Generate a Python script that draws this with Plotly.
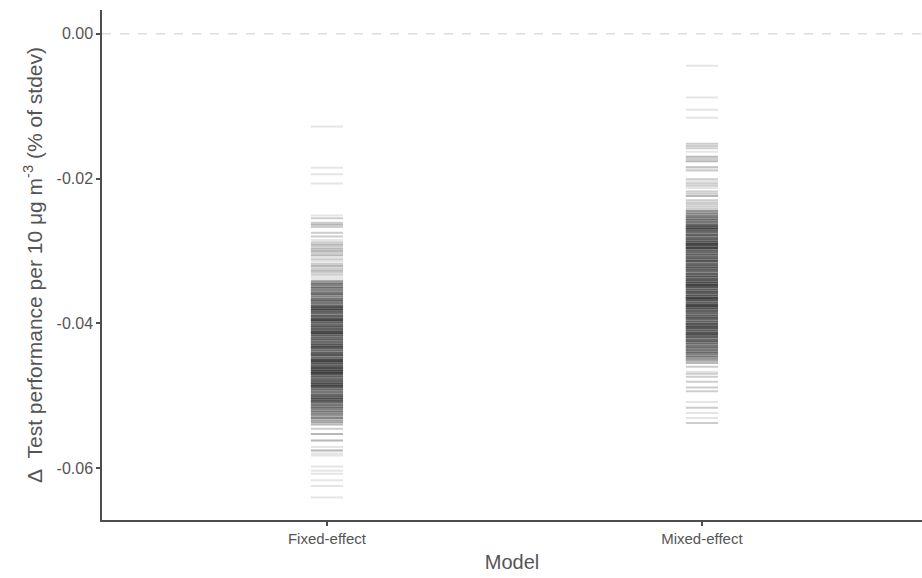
import numpy as np
import plotly.graph_objects as go

# Model categories
models = ["Fixed-effect", "Mixed-effect"]

# Estimated effects (per 10 ug/m3, share of stdev) and how many draws landed on each value
fixed_values = [
    -0.0128, -0.0185, -0.0194, -0.0207, -0.0251, -0.0255, -0.0261, -0.0264, -0.0267,
    -0.0275, -0.0280, -0.0285, -0.0288,
    -0.0291, -0.0294, -0.0297, -0.0300, -0.0303, -0.0306,
    -0.0309, -0.0312, -0.0315, -0.0318, -0.0321, -0.0324, -0.0327, -0.0330, -0.0333,
    -0.0336, -0.0339,
    -0.0342, -0.0345, -0.0348, -0.0351, -0.0354, -0.0357, -0.0360, -0.0363, -0.0366,
    -0.0369, -0.0372, -0.0375,
    -0.0378, -0.0381, -0.0384, -0.0387, -0.0390, -0.0393, -0.0396, -0.0399, -0.0402,
    -0.0405, -0.0408, -0.0411, -0.0414, -0.0417, -0.0420,
    -0.0423, -0.0426, -0.0429, -0.0432, -0.0435, -0.0438, -0.0441, -0.0444, -0.0447,
    -0.0450,
    -0.0453, -0.0456, -0.0459, -0.0462, -0.0465, -0.0468, -0.0471, -0.0474, -0.0477,
    -0.0480, -0.0483, -0.0486, -0.0489, -0.0492,
    -0.0495, -0.0498, -0.0501, -0.0504, -0.0507, -0.0510, -0.0513, -0.0516, -0.0519,
    -0.0522, -0.0525, -0.0528, -0.0531, -0.0534, -0.0537, -0.0540,
    -0.0546, -0.0553, -0.0562, -0.0571, -0.0576, -0.0580, -0.0583, -0.0598, -0.0604,
    -0.0608, -0.0617, -0.0625, -0.0641,
]
fixed_counts = [
    1, 1, 1, 1, 1, 2, 2, 3, 2,
    2, 2, 1, 2,
    3, 2, 3, 3, 2, 3,
    1, 2, 1, 2, 3, 2, 3, 2, 2,
    1, 1,
    5, 7, 6, 8, 6, 7, 8, 6, 7,
    9, 7, 8,
    11, 12, 9, 8, 9, 10, 12, 9, 8,
    10, 9, 11, 12, 9, 8,
    9, 8, 10, 11, 9, 8, 9, 10, 8,
    11,
    12, 10, 9, 11, 12, 13, 10, 9, 8,
    9, 11, 12, 9, 8,
    7, 8, 9, 11, 10, 8, 7, 8, 6,
    7, 6, 5, 6, 4, 4, 3,
    2, 3, 3, 1, 3, 1, 1, 1, 1,
    1, 1, 1, 1,
]

mixed_values = [
    -0.0044, -0.0088, -0.0105, -0.0116, -0.0152, -0.0155, -0.0158, -0.0163, -0.0170,
    -0.0173, -0.0176, -0.0184, -0.0186, -0.0189, -0.0201, -0.0204, -0.0207, -0.0210,
    -0.0213, -0.0218, -0.0221, -0.0224, -0.0230, -0.0233, -0.0236, -0.0239, -0.0242,
    -0.0245, -0.0248, -0.0251, -0.0254, -0.0257, -0.0260, -0.0263, -0.0266, -0.0269,
    -0.0272, -0.0275, -0.0278, -0.0281, -0.0284, -0.0287, -0.0290, -0.0293, -0.0296,
    -0.0299, -0.0302, -0.0305, -0.0308, -0.0311, -0.0314, -0.0317, -0.0320, -0.0323,
    -0.0326, -0.0329, -0.0332, -0.0335, -0.0338, -0.0341, -0.0344, -0.0347, -0.0350,
    -0.0353, -0.0356, -0.0359, -0.0362, -0.0365, -0.0368, -0.0371, -0.0374, -0.0377,
    -0.0380, -0.0383, -0.0386, -0.0389, -0.0392, -0.0395, -0.0398, -0.0401, -0.0404,
    -0.0407, -0.0410, -0.0413, -0.0416, -0.0419, -0.0422, -0.0425, -0.0428, -0.0431,
    -0.0434, -0.0437, -0.0440, -0.0443, -0.0446, -0.0449, -0.0452, -0.0455,
    -0.0460, -0.0467, -0.0470, -0.0474, -0.0481, -0.0489, -0.0494, -0.0509, -0.0517,
    -0.0524, -0.0531, -0.0538,
]
mixed_counts = [
    1, 1, 1, 1, 2, 2, 2, 1, 3,
    2, 3, 2, 1, 2, 2, 1, 2, 2,
    1, 2, 2, 3, 2, 2, 2, 2, 2,
    5, 6, 6, 7, 8, 7, 8, 10, 12,
    9, 8, 9, 8, 9, 10, 12, 11, 12,
    9, 8, 9, 8, 9, 10, 8, 9, 10,
    9, 8, 9, 10, 9, 10, 11, 12, 10,
    9, 10, 9, 10, 12, 10, 9, 11, 12,
    10, 9, 8, 9, 10, 8, 9, 10, 11,
    10, 9, 10, 11, 9, 8, 9, 8, 7,
    8, 7, 8, 6, 7, 5, 4, 3,
    2, 1, 2, 2, 2, 2, 2, 1, 2,
    1, 1, 2,
]

y_ticks = [0.00, -0.02, -0.04, -0.06]
y_tick_labels = ["0.00", "-0.02", "-0.04", "-0.06"]

axis_grey = "#4d4d4d"
label_grey = "#555555"
font_family = "Liberation Sans, Arial, sans-serif"

fig = go.Figure()

for name, vals, counts in [
    (models[0], fixed_values, fixed_counts),
    (models[1], mixed_values, mixed_counts),
]:
    ys = np.repeat(np.array(vals), np.array(counts))
    fig.add_trace(go.Scatter(
        x=[name] * len(ys),
        y=ys,
        mode="markers",
        marker=dict(
            symbol="line-ew",
            size=23,
            color="rgba(0,0,0,0.1)",
            line=dict(color="rgba(0,0,0,0.1)", width=2),
        ),
        showlegend=False,
        hoverinfo="y",
    ))

# reference line at zero effect
fig.add_hline(y=0, line=dict(color="#cccccc", width=1, dash="dash"))

fig.update_layout(
    width=922,
    height=578,
    margin=dict(l=102, r=0, t=10, b=58),
    paper_bgcolor="white",
    plot_bgcolor="white",
    font=dict(family=font_family, color=label_grey),
)

fig.update_xaxes(
    type="category",
    categoryarray=models,
    range=[-0.6, 1.587],
    showline=True,
    linecolor=axis_grey,
    linewidth=1.5,
    ticks="outside",
    ticklen=4,
    tickcolor=axis_grey,
    tickwidth=1.5,
    showgrid=False,
    zeroline=False,
    tickfont=dict(size=15, color=label_grey),
    title=dict(text="Model", font=dict(size=20, color=label_grey), standoff=9),
)

fig.update_yaxes(
    range=[-0.0672, 0.0033],
    tickvals=y_ticks,
    ticktext=y_tick_labels,
    showline=True,
    linecolor=axis_grey,
    linewidth=1.5,
    ticks="outside",
    ticklen=4,
    tickcolor=axis_grey,
    tickwidth=1.5,
    showgrid=False,
    zeroline=False,
    tickfont=dict(size=16, color=label_grey),
    title=dict(
        text="\u0394  Test performance per 10 \u03bcg m<sup>-3</sup> (% of stdev)",
        font=dict(size=21, color=label_grey),
        standoff=8,
    ),
)

fig.write_html("out.html")
